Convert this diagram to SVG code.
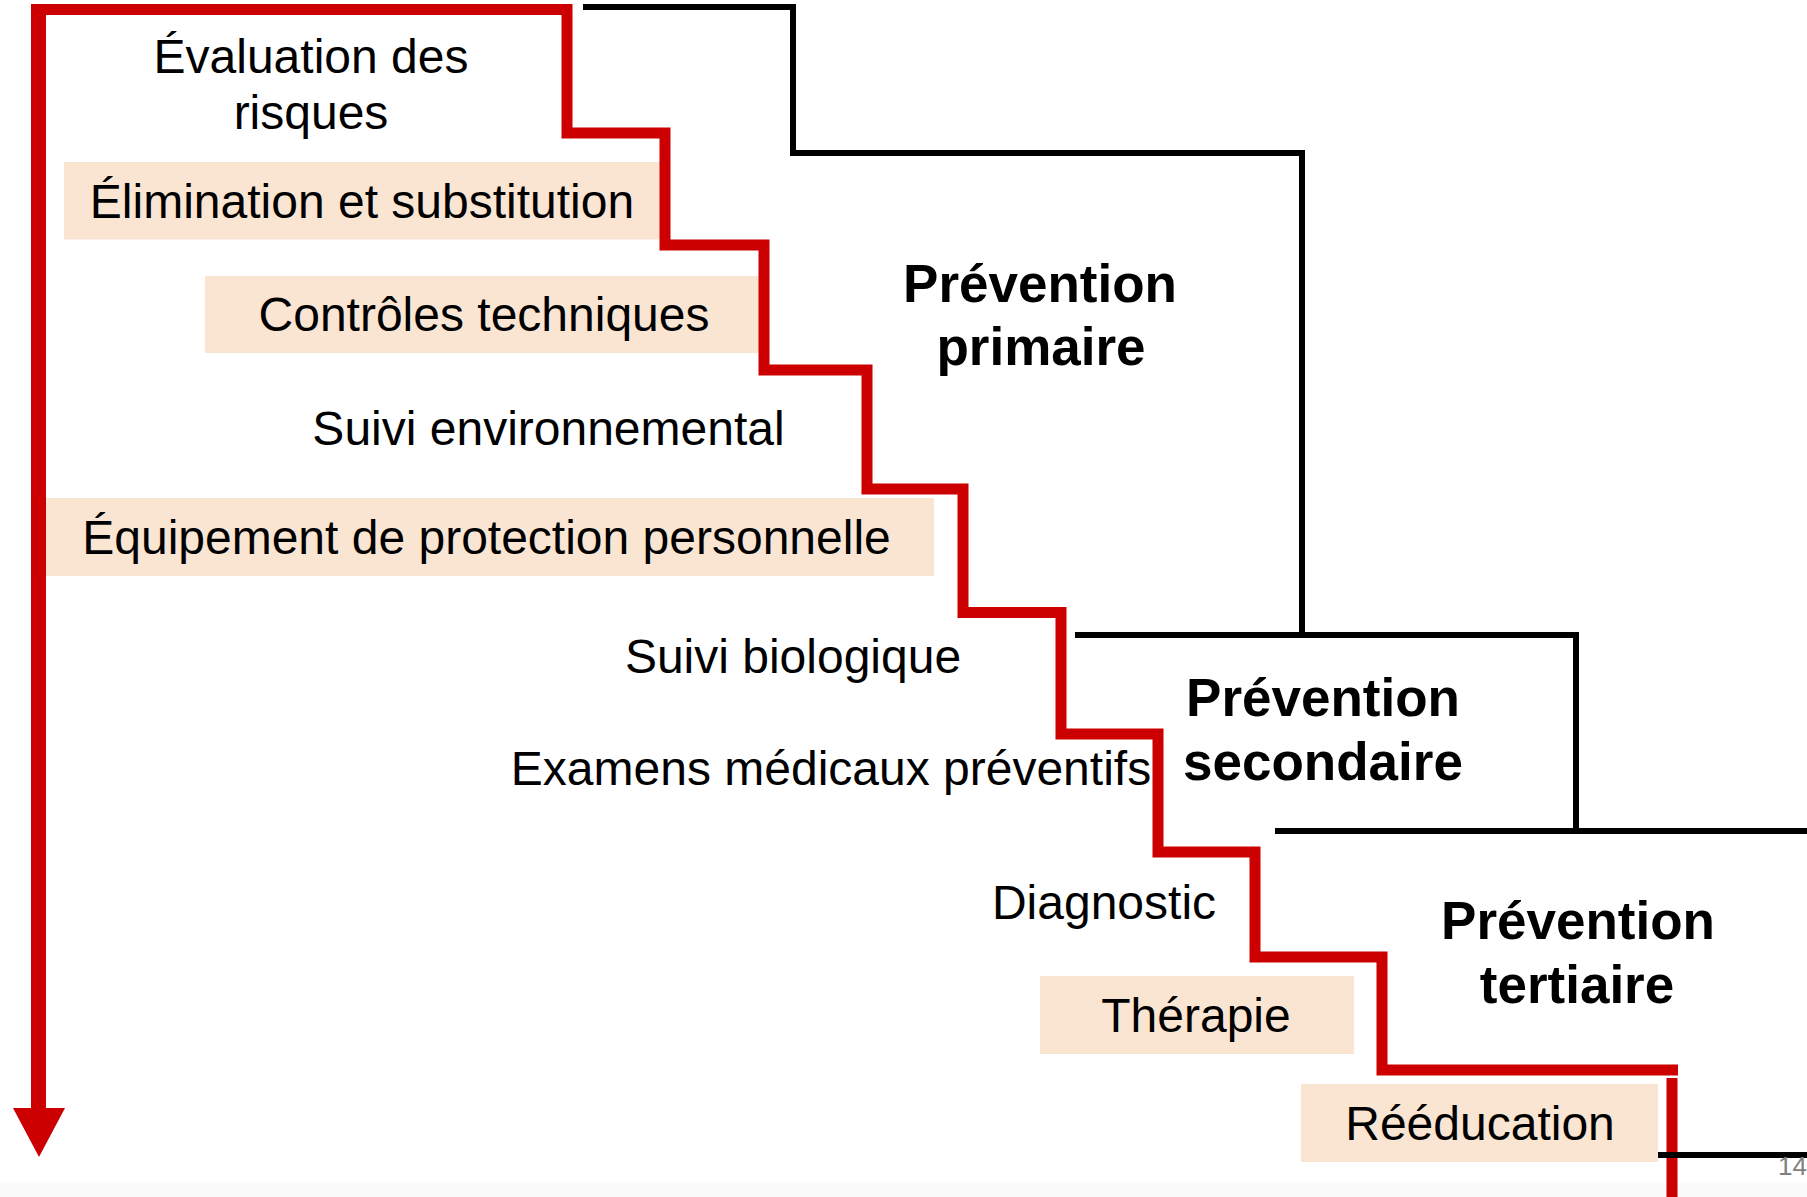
<svg xmlns="http://www.w3.org/2000/svg" width="1807" height="1197" viewBox="0 0 1807 1197">
  <style>
    .box { fill: #FAE5D3; }
    .lbl { font-family: "Liberation Sans", Arial, sans-serif; font-size: 48px; fill: #000; text-anchor: middle; }
    .head { font-family: "Liberation Sans", Arial, sans-serif; font-size: 53px; font-weight: bold; fill: #000; text-anchor: middle; }
    .red { fill: none; stroke: #CC0000; stroke-width: 11; stroke-linejoin: miter; stroke-linecap: butt; }
    .blk { fill: none; stroke: #000; stroke-width: 6; stroke-linejoin: miter; stroke-linecap: butt; }
  </style>
  <rect x="0" y="0" width="1807" height="1197" fill="#FFFFFF"/>
  <rect x="0" y="1182" width="1807" height="15" fill="#FAFBFA"/>

  <g id="node-evaluation">
    <text class="lbl" x="311" y="72.6">Évaluation des</text>
    <text class="lbl" x="311" y="128.5">risques</text>
  </g>
  <g id="node-elimination">
    <rect class="box" x="64" y="162" width="596" height="77.5"/>
    <text class="lbl" x="362" y="218.3">Élimination et substitution</text>
  </g>
  <g id="node-controles">
    <rect class="box" x="205" y="276" width="556" height="77"/>
    <text class="lbl" x="484" y="331">Contrôles techniques</text>
  </g>
  <g id="node-suivi-env">
    <text class="lbl" x="548.5" y="445">Suivi environnemental</text>
  </g>
  <g id="node-epi">
    <rect class="box" x="39" y="498" width="895" height="78"/>
    <text class="lbl" x="486.5" y="554">Équipement de protection personnelle</text>
  </g>
  <g id="node-suivi-bio">
    <text class="lbl" x="793" y="673">Suivi biologique</text>
  </g>
  <g id="node-examens">
    <text class="lbl" x="831" y="785">Examens médicaux préventifs</text>
  </g>
  <g id="node-diagnostic">
    <text class="lbl" x="1104" y="919">Diagnostic</text>
  </g>
  <g id="node-therapie">
    <rect class="box" x="1040" y="976" width="314" height="78"/>
    <text class="lbl" x="1196" y="1032">Thérapie</text>
  </g>
  <g id="node-reeducation">
    <rect class="box" x="1301" y="1084" width="357" height="78"/>
    <text class="lbl" x="1480" y="1140">Rééducation</text>
  </g>
  <g id="node-primaire">
    <text class="head" x="1040" y="302">Prévention</text>
    <text class="head" x="1041" y="365">primaire</text>
  </g>
  <g id="node-secondaire">
    <text class="head" x="1323" y="716">Prévention</text>
    <text class="head" x="1323" y="780">secondaire</text>
  </g>
  <g id="node-tertiaire">
    <text class="head" x="1578" y="939">Prévention</text>
    <text class="head" x="1577" y="1003">tertiaire</text>
  </g>

  <g id="connectors">
    <path class="blk" d="M583,7 H793 V153 H1302 V635"/>
    <path class="blk" d="M1075,635 H1576 V831"/>
    <path class="blk" d="M1275,831 H1807"/>
    <line x1="38.5" y1="9.5" x2="38.5" y2="1110" stroke="#CC0000" stroke-width="15"/>
    <polygon points="13,1108 65,1108 39,1157" fill="#CC0000"/>
    <path class="red" d="M31,9.5 H567 V133 H665 V245 H764 V370 H867 V489 H963 V612.5 H1061 V734 H1158 V852 H1255 V957 H1382 V1070 H1678"/>
    <path class="red" d="M1672,1078 V1197"/>
    <path class="blk" d="M1658,1155 H1807"/>
  </g>

  <text x="1778" y="1175" font-family="Liberation Sans, Arial, sans-serif" font-size="26" fill="#808080">14</text>
</svg>
